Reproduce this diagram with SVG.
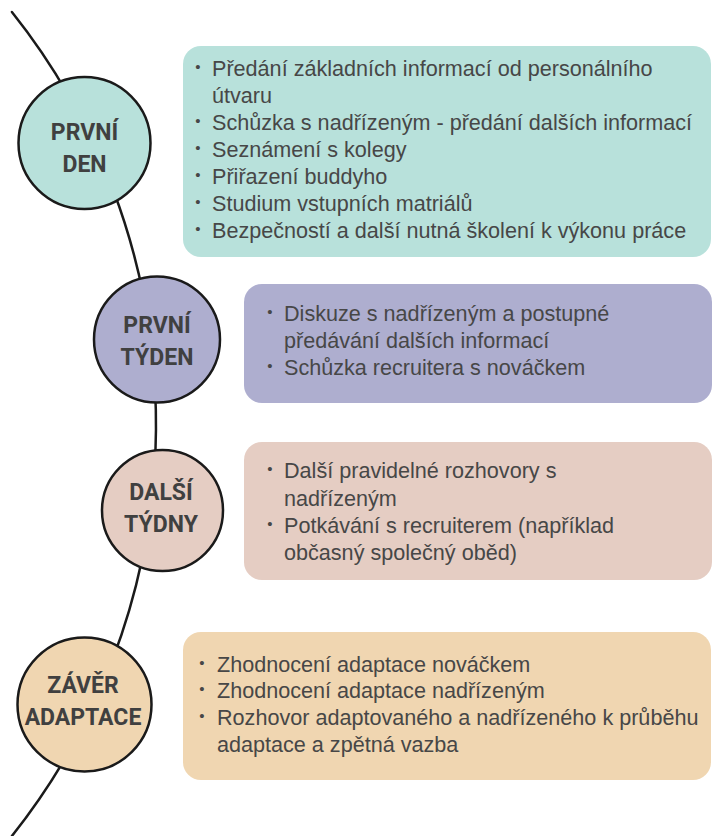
<svg xmlns="http://www.w3.org/2000/svg" width="712" height="836" viewBox="0 0 712 836">
<style>
.conn{fill:none;stroke:#1a1a1a;stroke-width:2.5;stroke-linecap:round}
.node{stroke:#1a1a1a;stroke-width:2.5}
.lbl{font-family:Roboto,"Liberation Sans",sans-serif;font-weight:bold;font-size:23px;fill:#404040;text-anchor:middle}
.body{font-family:"Liberation Sans",Arial,sans-serif;font-size:21.6px;fill:#474747}
.bul{font-family:"Liberation Sans",Arial,sans-serif;font-size:15px;fill:#474747;text-anchor:middle}
.c1{fill:#b8e1db}.c2{fill:#aeaecf}.c3{fill:#e5cdc3}.c4{fill:#f0d6b1}
</style>
<rect width="712" height="836" fill="#ffffff"/>
<g id="connectors">
<path class="conn" d="M11.9 12 A661 661 0 0 1 68.3 95"/>
<path class="conn" d="M113.2 190 A661 661 0 0 1 143.3 295"/>
<path class="conn" d="M155.1 390 A661 661 0 0 1 154.4 470"/>
<path class="conn" d="M141.9 560 A661 661 0 0 1 112.4 660"/>
<path class="conn" d="M70 750 A661 661 0 0 1 11.9 836"/>
</g>
<g id="box1">
<rect class="c1" x="183" y="46" width="528" height="211" rx="18"/>
<text class="bul" x="198" y="72">•</text>
<text class="bul" x="198" y="126">•</text>
<text class="bul" x="198" y="153">•</text>
<text class="bul" x="198" y="180">•</text>
<text class="bul" x="198" y="207">•</text>
<text class="bul" x="198" y="234">•</text>
<text class="body" x="212" y="76">Předání základních informací od personálního</text>
<text class="body" x="212" y="103">útvaru</text>
<text class="body" x="212" y="130">Schůzka s nadřízeným - předání dalších informací</text>
<text class="body" x="212" y="157">Seznámení s kolegy</text>
<text class="body" x="212" y="184">Přiřazení buddyho</text>
<text class="body" x="212" y="211">Studium vstupních matriálů</text>
<text class="body" x="212" y="238">Bezpečností a další nutná školení k výkonu práce</text>
</g>
<g id="box2">
<rect class="c2" x="244" y="284" width="468" height="119" rx="18"/>
<text class="bul" x="270" y="317">•</text>
<text class="bul" x="270" y="371">•</text>
<text class="body" x="284" y="321">Diskuze s nadřízeným a postupné</text>
<text class="body" x="284" y="348">předávání dalších informací</text>
<text class="body" x="284" y="375">Schůzka recruitera s nováčkem</text>
</g>
<g id="box3">
<rect class="c3" x="244" y="442" width="468" height="138" rx="18"/>
<text class="bul" x="270" y="474">•</text>
<text class="bul" x="270" y="529">•</text>
<text class="body" x="284" y="478">Další pravidelné rozhovory s</text>
<text class="body" x="284" y="506">nadřízeným</text>
<text class="body" x="284" y="533">Potkávání s recruiterem (například</text>
<text class="body" x="284" y="560">občasný společný oběd)</text>
</g>
<g id="box4">
<rect class="c4" x="183" y="632" width="528" height="148" rx="18"/>
<text class="bul" x="202" y="668">•</text>
<text class="bul" x="202" y="694">•</text>
<text class="bul" x="202" y="721">•</text>
<text class="body" x="217" y="672">Zhodnocení adaptace nováčkem</text>
<text class="body" x="217" y="698">Zhodnocení adaptace nadřízeným</text>
<text class="body" x="217" y="725">Rozhovor adaptovaného a nadřízeného k průběhu</text>
<text class="body" x="217" y="752">adaptace a zpětná vazba</text>
</g>
<g id="node1">
<circle class="node c1" cx="84.5" cy="143" r="66"/>
<text class="lbl" x="84.5" y="140">PRVNÍ</text>
<text class="lbl" x="84.5" y="172">DEN</text>
</g>
<g id="node2">
<circle class="node c2" cx="157" cy="339.5" r="63"/>
<text class="lbl" x="157" y="333">PRVNÍ</text>
<text class="lbl" x="157" y="365">TÝDEN</text>
</g>
<g id="node3">
<circle class="node c3" cx="162.5" cy="510.5" r="60.5"/>
<text class="lbl" x="161" y="500">DALŠÍ</text>
<text class="lbl" x="161" y="532">TÝDNY</text>
</g>
<g id="node4">
<circle class="node c4" cx="84.5" cy="704.5" r="67"/>
<text class="lbl" x="83" y="693">ZÁVĚR</text>
<text class="lbl" x="83" y="725">ADAPTACE</text>
</g>
</svg>
